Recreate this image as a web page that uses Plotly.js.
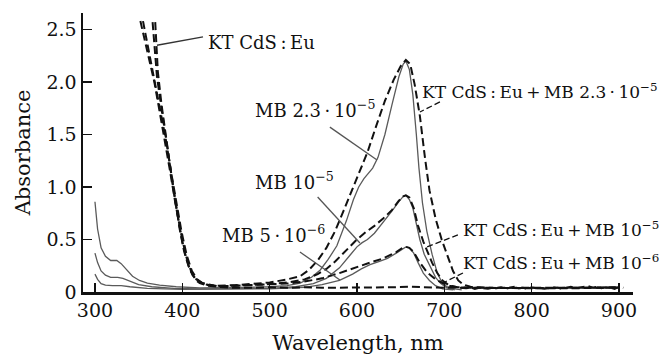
<!DOCTYPE html>
<html>
<head>
<meta charset="utf-8">
<script src="https://cdn.plot.ly/plotly-3.0.1.min.js"></script>
<style>html,body{margin:0;padding:0;background:#fff;}#chart{width:664px;height:358px;}</style>
</head>
<body>
<div id="chart"></div>
<script>
// ---- Data ----
// KT CdS:Eu alone (dashed)
const ktX = [369,372,376,380,384,388,392,396,400,404,408,412,416,420,425,430,440,450,460,480,500,520,540,560,580,600,620,640,660,680,700,710,720,725,730,735,740,745,750,755,760,765,770,775,780,785,790,795,800,805,810,815,820,825,830,835,840,845,850,855,860,865,870,875,880,885,890,895,900,905];
const ktY = [2.57,2.1,1.8,1.55,1.3,1.08,0.86,0.66,0.48,0.34,0.23,0.16,0.11,0.085,0.07,0.06,0.05,0.045,0.04,0.04,0.045,0.04,0.045,0.04,0.04,0.045,0.04,0.045,0.05,0.045,0.04,0.045,0.04,0.035,0.045,0.03,0.04,0.035,0.03,0.04,0.035,0.045,0.03,0.04,0.05,0.035,0.04,0.03,0.045,0.035,0.04,0.03,0.035,0.045,0.04,0.03,0.04,0.05,0.035,0.04,0.045,0.055,0.04,0.05,0.035,0.045,0.04,0.03,0.05,0.04];

// KT CdS:Eu + MB 2.3e-5 (dashed)
const mix23X = [352,360,368,374,380,386,392,398,404,410,416,422,430,440,460,480,500,520,535,545,555,565,575,585,595,603,612,622,632,642,650,656,661,666,672,678,683,690,697,703,710,716,722,730,740,750,800,850,900];
const mix23Y = [2.58,2.3,2.0,1.72,1.45,1.15,0.85,0.58,0.35,0.2,0.12,0.085,0.065,0.06,0.065,0.075,0.09,0.12,0.15,0.21,0.3,0.42,0.58,0.78,0.98,1.14,1.33,1.58,1.82,2.02,2.15,2.21,2.17,1.98,1.68,1.27,0.97,0.7,0.5,0.36,0.2,0.11,0.07,0.05,0.045,0.04,0.035,0.04,0.045];

// KT CdS:Eu + MB 1e-5 (dashed)
const mix10X = [355,362,369,375,381,387,393,399,405,411,417,423,431,440,460,480,500,520,540,555,565,575,590,600,610,620,630,640,648,653,656,660,665,670,676,680,686,692,698,705,715,730,750,800,850,900];
const mix10Y = [2.58,2.28,2.0,1.73,1.46,1.15,0.85,0.58,0.35,0.2,0.12,0.085,0.065,0.055,0.06,0.065,0.075,0.09,0.12,0.17,0.22,0.29,0.42,0.5,0.57,0.63,0.7,0.78,0.87,0.91,0.92,0.9,0.8,0.63,0.48,0.4,0.28,0.18,0.11,0.065,0.045,0.04,0.04,0.04,0.035,0.045];

// KT CdS:Eu + MB 1e-6 (dashed)
const mix06X = [366,371,377,382,387,392,397,402,407,412,417,423,431,440,460,480,500,520,540,560,580,600,615,630,645,652,656,660,665,672,680,690,698,706,715,730,750,800,850,900];
const mix06Y = [2.57,2.05,1.7,1.42,1.14,0.86,0.6,0.39,0.25,0.16,0.115,0.085,0.07,0.055,0.06,0.065,0.07,0.08,0.1,0.13,0.18,0.24,0.28,0.32,0.38,0.42,0.43,0.42,0.38,0.28,0.19,0.12,0.086,0.06,0.045,0.04,0.04,0.045,0.04,0.04];

// MB 2.3e-5 (solid)
const mb23X = [300,303,307,312,318,325,330,336,343,351,360,374,393,420,450,480,500,520,535,548,558,567,577,588,596,602,608,613,618,624,632,640,648,653,656,660,664,668,671,675,680,686,692,698,705,712,720];
const mb23Y = [0.86,0.6,0.42,0.34,0.3,0.3,0.27,0.21,0.15,0.11,0.085,0.065,0.05,0.04,0.04,0.045,0.05,0.06,0.085,0.14,0.21,0.31,0.44,0.68,0.88,1.0,1.08,1.13,1.18,1.28,1.5,1.78,2.05,2.17,2.2,2.12,1.88,1.5,1.18,0.85,0.58,0.36,0.18,0.08,0.04,0.03,0.02];

// MB 1e-5 (solid)
const mb10X = [300,303,307,312,318,326,332,340,350,365,390,420,460,500,530,550,565,580,592,600,606,612,620,630,640,648,653,656,660,664,668,672,677,684,690,696,703,712];
const mb10Y = [0.37,0.28,0.2,0.16,0.14,0.14,0.13,0.1,0.07,0.05,0.035,0.03,0.03,0.035,0.05,0.08,0.13,0.23,0.35,0.43,0.47,0.5,0.56,0.66,0.77,0.86,0.91,0.92,0.88,0.8,0.66,0.5,0.36,0.24,0.14,0.08,0.04,0.02];

// MB 5e-6 (solid)
const mb05X = [300,303,307,312,320,330,340,360,400,450,500,540,560,580,595,605,615,625,635,645,652,656,660,665,670,676,683,690,698,710];
const mb05Y = [0.17,0.12,0.08,0.065,0.06,0.06,0.05,0.035,0.025,0.025,0.03,0.045,0.07,0.11,0.17,0.22,0.26,0.29,0.32,0.37,0.41,0.43,0.42,0.37,0.28,0.18,0.11,0.06,0.03,0.02];

const xTicks = [300,400,500,600,700,800,900];
const yTicks = [0,0.5,1.0,1.5,2.0,2.5];
const yTickText = ['0','0.5','1.0','1.5','2.0','2.5'];

// ---- Styles ----
const FONT = '"DejaVu Serif", "Liberation Serif", serif';
const dashStyle = {color:'#111', width:2, dash:'8px,4px'};
const solidStyle = {color:'#5a5a5a', width:1.3};

const traces = [
  {x:mb23X, y:mb23Y, mode:'lines', line:solidStyle, name:'MB 2.3e-5'},
  {x:mb10X, y:mb10Y, mode:'lines', line:solidStyle, name:'MB 1e-5'},
  {x:mb05X, y:mb05Y, mode:'lines', line:solidStyle, name:'MB 5e-6'},
  {x:mix23X, y:mix23Y, mode:'lines', line:dashStyle, name:'KT+MB 2.3e-5'},
  {x:mix10X, y:mix10Y, mode:'lines', line:dashStyle, name:'KT+MB 1e-5'},
  {x:mix06X, y:mix06Y, mode:'lines', line:dashStyle, name:'KT+MB 1e-6'},
  {x:ktX, y:ktY, mode:'lines', line:dashStyle, name:'KT CdS:Eu'}
];

const ts = '\u2009';
const labels = [
  {text:'KT CdS'+ts+':'+ts+'Eu', x:427, y:2.38, size:18},
  {text:'MB 2.3'+ts+'·'+ts+'10<sup>−5</sup>', x:481, y:1.74, size:18},
  {text:'MB 10<sup>−5</sup>', x:481, y:1.06, size:18},
  {text:'MB 5'+ts+'·'+ts+'10<sup>−6</sup>', x:443, y:0.55, size:18},
  {text:'KT CdS'+ts+':'+ts+'Eu'+ts+'+'+ts+'MB 2.3'+ts+'·'+ts+'10<sup>−5</sup>', x:672, y:1.91, size:17},
  {text:'KT CdS'+ts+':'+ts+'Eu'+ts+'+'+ts+'MB 10<sup>−5</sup>', x:719, y:0.60, size:17},
  {text:'KT CdS'+ts+':'+ts+'Eu'+ts+'+'+ts+'MB 10<sup>−6</sup>', x:719, y:0.29, size:17}
];
const annotations = labels.map(l => ({
  text:l.text, x:l.x, y:l.y, xref:'x', yref:'y', xanchor:'left', yanchor:'middle',
  showarrow:false, font:{family:FONT, size:l.size, color:'#111'}
}));

const leaders = [
  {x0:371, y0:2.35, x1:423.7, y1:2.43, dash:'solid', color:'#333'},
  {x0:569, y0:1.57, x1:623, y1:1.257, dash:'solid', color:'#555'},
  {x0:555, y0:0.905, x1:603.4, y1:0.467, dash:'solid', color:'#555'},
  {x0:534.7, y0:0.381, x1:580.5, y1:0.114, dash:'solid', color:'#555'},
  {x0:695, y0:1.81, x1:672.1, y1:1.714, dash:'6px,3px', color:'#111'},
  {x0:715.6, y0:0.543, x1:680.2, y1:0.429, dash:'6px,3px', color:'#111'},
  {x0:721.4, y0:0.181, x1:698.5, y1:0.086, dash:'6px,3px', color:'#111'}
];
const shapes = leaders.map(s => ({
  type:'line', xref:'x', yref:'y', x0:s.x0, y0:s.y0, x1:s.x1, y1:s.y1,
  line:{color:s.color, width:1.3, dash:s.dash}
}));

const layout = {
  width:664, height:358,
  margin:{l:83, r:31, t:13, b:66},
  paper_bgcolor:'#fff', plot_bgcolor:'#fff',
  showlegend:false,
  font:{family:FONT, color:'#111'},
  xaxis:{
    range:[286.3, 916.1], tickvals:xTicks, ticks:'inside', ticklen:9, tickwidth:1.3, tickcolor:'#111',
    showline:true, linewidth:2.5, linecolor:'#111', showgrid:false, zeroline:false,
    tickfont:{family:FONT, size:19, color:'#111'},
    title:{text:'Wavelength, nm', font:{family:FONT, size:21, color:'#111'}, standoff:15}
  },
  yaxis:{
    range:[0, 2.657], tickvals:yTicks, ticktext:yTickText, ticks:'inside', ticklen:9, tickwidth:1.3, tickcolor:'#111',
    showline:true, linewidth:2.5, linecolor:'#111', showgrid:false, zeroline:false,
    tickfont:{family:FONT, size:19, color:'#111'},
    title:{text:'Absorbance', font:{family:FONT, size:21, color:'#111'}, standoff:10}
  },
  annotations:annotations,
  shapes:shapes
};

Plotly.newPlot('chart', traces, layout, {displayModeBar:false, staticPlot:true});
</script>
</body>
</html>
